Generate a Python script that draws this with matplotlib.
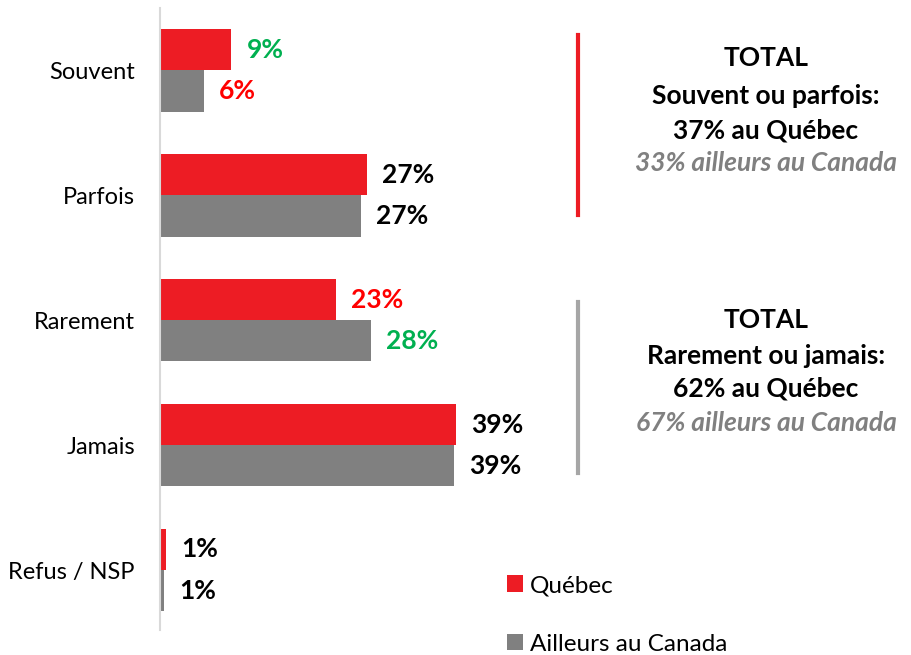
import matplotlib.pyplot as plt
from matplotlib.lines import Line2D

plt.rcParams['font.family'] = ['Lato', 'DejaVu Sans']

# data
categories = ["Souvent", "Parfois", "Rarement", "Jamais", "Refus / NSP"]
quebec = [9.4, 27.2, 23.1, 39.0, 0.8]
ailleurs = [5.8, 26.5, 27.8, 38.7, 0.5]
quebec_labels = ["9%", "27%", "23%", "39%", "1%"]
ailleurs_labels = ["6%", "27%", "28%", "39%", "1%"]
quebec_label_colors = ["#00B050", "black", "#FF0000", "black", "black"]
ailleurs_label_colors = ["#FF0000", "black", "#00B050", "black", "black"]

RED = "#ED1C24"
GRAY = "#808080"
W, H = 911, 655

fig = plt.figure(figsize=(W / 100, H / 100), dpi=100)
ax = fig.add_axes([160 / W, (H - 630) / H, (W - 160) / W, (630 - 8) / H])

bh = 0.33
ypos = list(range(len(categories)))
b1 = ax.barh([y - bh / 2 for y in ypos], quebec, height=bh, color=RED, label="Québec")
b2 = ax.barh([y + bh / 2 for y in ypos], ailleurs, height=bh, color=GRAY, label="Ailleurs au Canada")

for y, v, lab, c in zip(ypos, quebec, quebec_labels, quebec_label_colors):
    ax.annotate(lab, (v, y - bh / 2), xytext=(15, 0), textcoords="offset pixels",
                va="center", ha="left", fontsize=19, fontweight="bold", color=c)
for y, v, lab, c in zip(ypos, ailleurs, ailleurs_labels, ailleurs_label_colors):
    ax.annotate(lab, (v, y + bh / 2), xytext=(15, 0), textcoords="offset pixels",
                va="center", ha="left", fontsize=19, fontweight="bold", color=c)

ax.set_xlim(0, (W - 160) / 7.6)
ax.set_ylim(4.48, -0.5)
ax.set_yticks(ypos)
ax.set_yticklabels(categories, fontsize=17)
ax.tick_params(axis="y", length=0, pad=18)
ax.set_xticks([])
for s in ["top", "right", "bottom"]:
    ax.spines[s].set_visible(False)
ax.spines["left"].set_color("#D9D9D9")
ax.spines["left"].set_linewidth(1.5)

# summary boxes on the right
def vline(y0, y1, color):
    fig.add_artist(Line2D([578 / W, 578 / W], [1 - y0 / H, 1 - y1 / H],
                          color=color, lw=3, transform=fig.transFigure))

vline(35, 215, RED)
vline(302, 473, "#A6A6A6")

texts1 = [("TOTAL", 58), ("Souvent ou parfois:", 96), ("37% au Québec", 130)]
texts2 = [("TOTAL", 320), ("Rarement ou jamais:", 356), ("62% au Québec", 389)]
for t, y in texts1 + texts2:
    fig.text(766 / W, 1 - y / H, t, ha="center", va="center", fontsize=19,
             fontweight="bold", color="black")
fig.text(766 / W, 1 - 163 / H, "33% ailleurs au Canada", ha="center", va="center",
         fontsize=19, fontweight="bold", style="italic", color=GRAY)
fig.text(766 / W, 1 - 423 / H, "67% ailleurs au Canada", ha="center", va="center",
         fontsize=19, fontweight="bold", style="italic", color=GRAY)

fig.legend(handles=[b1, b2], loc="upper left", bbox_to_anchor=(507 / W, 1 - 575 / H),
           frameon=False, fontsize=17.5, handlelength=0.65, handleheight=0.65,
           handletextpad=0.3, labelspacing=1.55, borderpad=0, borderaxespad=0)

fig.savefig("out.png", dpi=100)
